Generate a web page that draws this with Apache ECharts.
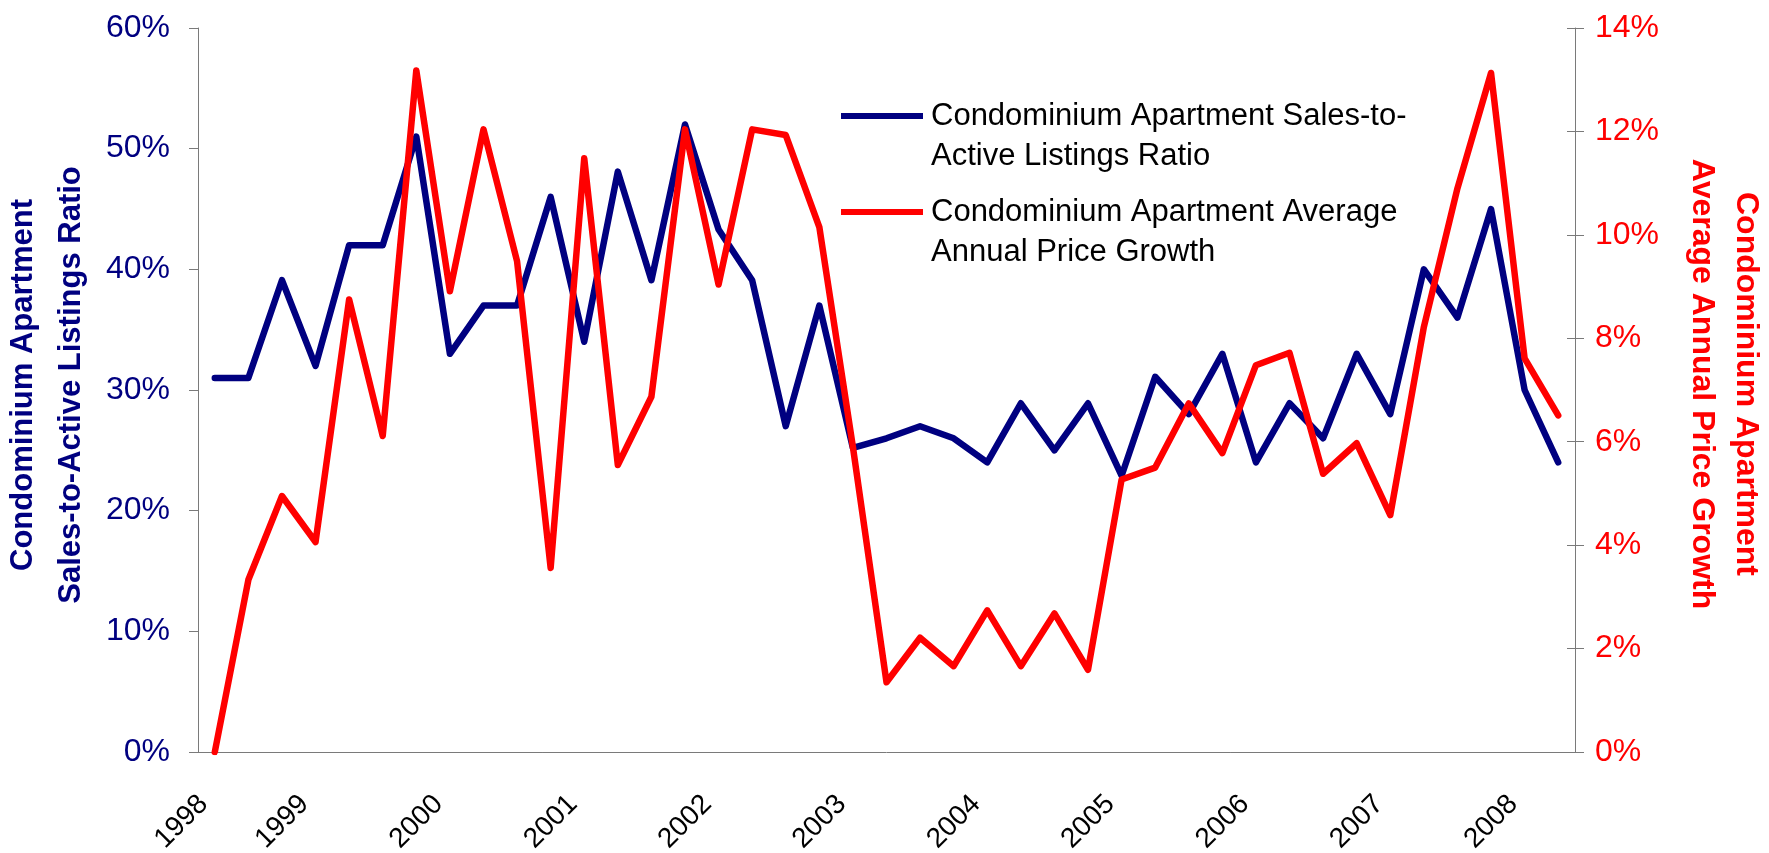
<!DOCTYPE html>
<html>
<head>
<meta charset="utf-8">
<script src="https://cdn.jsdelivr.net/npm/echarts@6/dist/echarts.min.js"></script>
<style>
html, body { margin: 0; padding: 0; background: #fff; }
#chart { width: 1769px; height: 853px; }
</style>
</head>
<body>
<div id="chart"></div>
<script>
// quarterly points, 1998 Q2 - 2008 Q2
var quarters = [
	'1998 Q2', '1998 Q3', '1998 Q4',
	'1999 Q1', '1999 Q2', '1999 Q3', '1999 Q4',
	'2000 Q1', '2000 Q2', '2000 Q3', '2000 Q4',
	'2001 Q1', '2001 Q2', '2001 Q3', '2001 Q4',
	'2002 Q1', '2002 Q2', '2002 Q3', '2002 Q4',
	'2003 Q1', '2003 Q2', '2003 Q3', '2003 Q4',
	'2004 Q1', '2004 Q2', '2004 Q3', '2004 Q4',
	'2005 Q1', '2005 Q2', '2005 Q3', '2005 Q4',
	'2006 Q1', '2006 Q2', '2006 Q3', '2006 Q4',
	'2007 Q1', '2007 Q2', '2007 Q3', '2007 Q4',
	'2008 Q1', '2008 Q2'
];
var years = ['1998', '1999', '2000', '2001', '2002', '2003', '2004', '2005', '2006', '2007', '2008'];
// sales-to-active listings ratio, % (left axis)
var salesRatio = [
	31, 31, 39.1, 32, 42, 42, 51, 33, 37, 37,
	46, 34, 48.1, 39.1, 52, 43.3, 39.1, 27, 37, 25.2,
	26, 27, 26, 24, 28.9, 25, 28.9, 22.9, 31.1, 28,
	33, 24, 28.9, 26, 33, 28, 40, 36, 45, 30,
	24
];
// average annual price growth, % (right axis)
var priceGrowth = [
	0, 3.33, 4.95, 4.06, 8.75, 6.11, 13.18, 8.91, 12.04, 9.49,
	3.56, 11.48, 5.55, 6.87, 12.04, 9.04, 12.04, 11.93, 10.15, 5.9,
	1.35, 2.21, 1.66, 2.74, 1.66, 2.68, 1.59, 5.27, 5.5, 6.74,
	5.78, 7.48, 7.72, 5.38, 5.97, 4.58, 8.22, 10.9, 13.13, 7.61,
	6.51
];

var ratioName = 'Condominium Apartment Sales-to-\nActive Listings Ratio';
var growthName = 'Condominium Apartment Average\nAnnual Price Growth';

var navy = '#000080';
var red = '#FF0000';
var axisGray = '#7a7a7a';
var font = '"Liberation Sans", Arial, sans-serif';

// where the year captions sit, in quarter widths from the left axis
var yearLabelAt = years.map(function (y, k) {
	return k === 0 ? 0.25 : 4 * k - 0.75;
});

function legendFor(name, top) {
	return {
		data: [name],
		orient: 'vertical',
		left: 841,
		top: top,
		padding: 0,
		icon: 'rect',
		itemWidth: 82,
		itemHeight: 6,
		selectedMode: false,
		// empty first line so the icon sits level with the first text line
		formatter: function (n) { return '\n' + n; },
		textStyle: { fontFamily: font, fontSize: 31, lineHeight: 40, color: '#000', padding: [0, 0, 0, 3] }
	};
}

var option = {
	animation: false,
	textStyle: { fontFamily: font },
	grid: { left: 198, right: 194, top: 28, bottom: 101, containLabel: false, outerBoundsMode: 'none' },
	legend: [legendFor(ratioName, 56), legendFor(growthName, 152)],
	xAxis: [
		{
			type: 'category',
			data: quarters,
			boundaryGap: true,
			position: 'bottom',
			axisLine: { lineStyle: { color: axisGray, width: 1 } },
			axisTick: {
				interval: function (i) { return i % 4 === 0; },
				length: 9,
				lineStyle: { color: axisGray }
			},
			axisLabel: { show: false },
			splitLine: { show: false }
		},
		{
			// label-only axis for the year captions
			type: 'value',
			min: 0,
			max: quarters.length,
			position: 'bottom',
			axisLine: { show: false },
			axisTick: { show: false },
			splitLine: { show: false },
			axisLabel: {
				customValues: yearLabelAt,
				formatter: function (v) { return years[Math.round((v + 0.75) / 4)]; },
				rotate: 45,
				fontSize: 28,
				color: '#000',
				margin: 45,
				padding: [0, 4, 0, 0],
				hideOverlap: false
			}
		}
	],
	yAxis: [
		{
			type: 'value',
			position: 'left',
			min: 0,
			max: 60,
			interval: 10,
			name: 'Condominium Apartment\nSales-to-Active Listings Ratio',
			nameLocation: 'middle',
			nameRotate: 90,
			nameGap: 92,
			nameTextStyle: { fontSize: 31, fontWeight: 'bold', color: navy, lineHeight: 48, padding: [0, 0, 0, 10] },
			axisLine: { show: true, lineStyle: { color: axisGray, width: 1 } },
			axisTick: { show: true, length: 9, lineStyle: { color: axisGray } },
			axisLabel: { formatter: '{value}%', fontSize: 32, color: navy, margin: 28 },
			splitLine: { show: false }
		},
		{
			type: 'value',
			position: 'right',
			min: 0,
			max: 14,
			interval: 2,
			name: 'Condominium Apartment\nAverage Annual Price Growth',
			nameLocation: 'middle',
			nameRotate: -90,
			nameGap: 105,
			nameTextStyle: { fontSize: 32, fontWeight: 'bold', color: red, lineHeight: 44, padding: [0, 12, 0, 0] },
			axisLine: { show: true, lineStyle: { color: axisGray, width: 1 } },
			axisTick: { show: true, length: 9, lineStyle: { color: axisGray } },
			axisLabel: { formatter: '{value}%', fontSize: 32, color: red, margin: 20 },
			splitLine: { show: false }
		},
		{
			// inner half of the right axis' crossing tick marks
			type: 'value',
			position: 'right',
			min: 0,
			max: 14,
			interval: 2,
			axisLine: { show: false },
			axisTick: { show: true, inside: true, length: 8, lineStyle: { color: axisGray } },
			axisLabel: { show: false },
			splitLine: { show: false }
		}
	],
	series: [
		{
			name: ratioName,
			type: 'line',
			xAxisIndex: 0,
			yAxisIndex: 0,
			data: salesRatio,
			symbol: 'none',
			lineStyle: { color: navy, width: 6.5, cap: 'round', join: 'round' },
			itemStyle: { color: navy }
		},
		{
			name: growthName,
			type: 'line',
			xAxisIndex: 0,
			yAxisIndex: 1,
			data: priceGrowth,
			symbol: 'none',
			lineStyle: { color: red, width: 6.5, cap: 'round', join: 'round' },
			itemStyle: { color: red }
		}
	]
};

var chart = echarts.init(document.getElementById('chart'));
chart.setOption(option);
</script>
</body>
</html>
